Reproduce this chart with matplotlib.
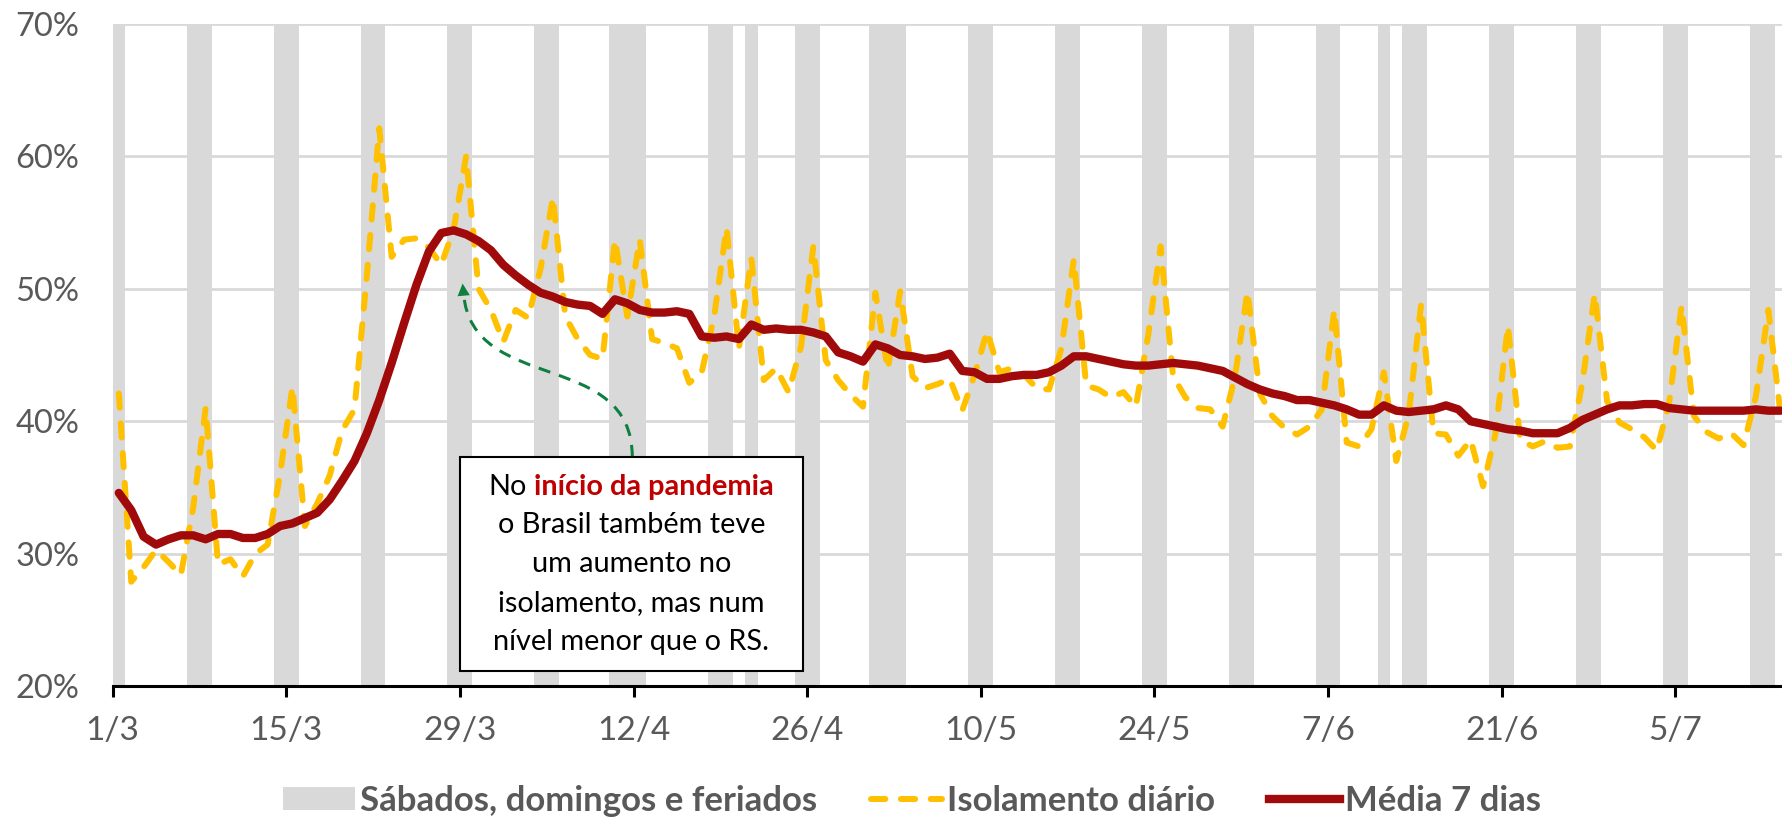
import matplotlib
matplotlib.use("Agg")
import matplotlib.pyplot as plt
import numpy as np
from matplotlib.patches import Rectangle, PathPatch, FancyArrowPatch
from matplotlib.path import Path
from matplotlib.lines import Line2D
from matplotlib.patches import Patch

plt.rcParams['font.family'] = ['Lato', 'DejaVu Sans']

# days since 1/3/2020
tick_days = [0, 14, 28, 42, 56, 70, 84, 98, 112, 126]
tick_labels = ['1/3', '15/3', '29/3', '12/4', '26/4', '10/5', '24/5', '7/6', '21/6', '5/7']

# weekends and holidays (day index)
off_days = [0, 6, 7, 13, 14, 20, 21, 27, 28, 34, 35, 40, 41, 42, 48, 49, 51,
            55, 56, 61, 62, 63, 69, 70, 76, 77, 83, 84, 90, 91, 97, 98, 102,
            104, 105, 111, 112, 118, 119, 125, 126, 132, 133]

# daily isolation (%)
isolamento = [42.1, 27.9, 29.0, 30.3, 29.4, 28.4, 33.5, 41.0, 29.2, 29.6,
              28.3, 30.0, 30.7, 36.0, 42.6, 32.1, 33.8, 35.9, 39.3, 40.9,
              51.0, 62.1, 52.4, 53.7, 53.8, 53.1, 51.8, 54.5, 60.0, 50.0,
              48.4, 46.0, 48.4, 47.8, 51.5, 56.9, 47.9, 46.2, 45.0, 44.7,
              53.7, 47.9, 53.7, 46.2, 45.9, 45.5, 42.9, 43.7, 47.9, 54.6,
              45.5, 52.3, 43.1, 44.0, 42.2, 45.6, 53.2, 44.6, 43.1, 42.0,
              41.1, 49.7, 43.9, 49.8, 43.4, 42.5, 42.8, 43.2, 40.8, 43.5,
              46.8, 43.7, 44.0, 43.5, 42.5, 42.4, 45.5, 52.2, 42.7, 42.4,
              41.8, 42.2, 41.1, 46.5, 53.2, 43.4, 41.8, 41.0, 40.9, 39.6,
              43.4, 49.8, 42.1, 40.4, 39.5, 39.0, 39.6, 40.9, 48.4, 38.4,
              38.1, 39.4, 43.7, 37.0, 40.5, 48.8, 39.1, 39.0, 37.4, 38.6,
              35.1, 39.1, 47.2, 38.6, 38.1, 38.5, 38.0, 38.1, 42.9, 49.6,
              41.5, 39.9, 39.4, 38.8, 37.8, 41.4, 48.7, 40.4, 39.2, 38.7,
              39.1, 38.2, 41.9, 48.4, 40.4]

# 7-day moving average (%)
media7 = [34.6, 33.3, 31.3, 30.7, 31.1, 31.4, 31.4, 31.1, 31.5, 31.5,
          31.2, 31.2, 31.5, 32.1, 32.3, 32.7, 33.1, 34.1, 35.5, 37.0,
          39.1, 41.6, 44.4, 47.4, 50.3, 52.8, 54.2, 54.4, 54.1, 53.6,
          52.9, 51.8, 51.0, 50.3, 49.7, 49.4, 49.0, 48.8, 48.7, 48.1,
          49.2, 48.9, 48.4, 48.2, 48.2, 48.3, 48.1, 46.4, 46.3, 46.4,
          46.2, 47.3, 46.9, 47.0, 46.9, 46.9, 46.7, 46.4, 45.2, 44.9,
          44.5, 45.8, 45.5, 45.0, 44.9, 44.7, 44.8, 45.1, 43.8, 43.7,
          43.2, 43.2, 43.4, 43.5, 43.5, 43.7, 44.2, 44.9, 44.9, 44.7,
          44.5, 44.3, 44.2, 44.2, 44.3, 44.4, 44.3, 44.2, 44.0, 43.8,
          43.3, 42.8, 42.4, 42.1, 41.9, 41.6, 41.6, 41.4, 41.2, 40.9,
          40.5, 40.5, 41.2, 40.8, 40.7, 40.8, 40.9, 41.2, 40.9, 40.0,
          39.8, 39.6, 39.4, 39.3, 39.1, 39.1, 39.1, 39.5, 40.1, 40.5,
          40.9, 41.2, 41.2, 41.3, 41.3, 41.0, 40.9, 40.8, 40.8, 40.8,
          40.8, 40.8, 40.9, 40.8, 40.8]

grey = '#d9d9d9'
gold = '#FFC000'
darkred = '#A00A0A'
green = '#0E7F3E'
txtgrey = '#595959'

fig = plt.figure(figsize=(17.82, 8.19), dpi=100)
ax = fig.add_axes([0.0632, 0.1618, 0.9368, 0.8095])

days = np.arange(len(isolamento))
x = days + 0.5

# weekend / holiday columns
ax.bar(np.array(off_days) + 0.5, 50, bottom=20, width=1.0, color=grey,
       linewidth=0, zorder=1)

ax.plot(x, isolamento, color=gold, lw=4.3, dashes=(2.4, 2.6),
        dash_capstyle='round', solid_joinstyle='round', zorder=3)
ax.plot(x, media7, color=darkred, lw=6, solid_joinstyle='round',
        solid_capstyle='round', zorder=4)

ax.set_xlim(0, 134.6)
ax.set_ylim(20, 70)
ax.set_yticks([20, 30, 40, 50, 60, 70])
ax.set_yticklabels(['20%', '30%', '40%', '50%', '60%', '70%'])
ax.set_xticks(tick_days)
ax.set_xticklabels(tick_labels)

ax.yaxis.grid(True, color=grey, lw=2, zorder=0)
ax.set_axisbelow(True)
for s in ['top', 'right', 'left']:
    ax.spines[s].set_visible(False)
ax.spines['bottom'].set_linewidth(2.2)
ax.spines['bottom'].set_zorder(5)
ax.tick_params(axis='y', length=0, pad=24, labelsize=23.5, labelcolor=txtgrey)
ax.tick_params(axis='x', length=8, width=2.2, direction='out', pad=13,
               labelsize=24, labelcolor=txtgrey)

# annotation box
box_x0, box_x1 = 28.0, 55.65
box_y0, box_y1 = 21.2, 37.3
ax.add_patch(Rectangle((box_x0, box_y0), box_x1 - box_x0, box_y1 - box_y0,
                       facecolor='white', edgecolor='black', lw=1.5, zorder=6))
cx = (box_x0 + box_x1) / 2
fs = 20.8
lines = ['o Brasil também teve', 'um aumento no', 'isolamento, mas num',
         'nível menor que o RS.']
line_y = [35.02, 32.18, 29.2, 26.27, 23.38]
for txt, yy in zip(lines, line_y[1:]):
    ax.text(cx, yy, txt, ha='center', va='center', fontsize=fs,
            color='black', zorder=7)

t1 = ax.text(cx, line_y[0], 'No', ha='left', va='center', fontsize=fs,
             color='black', zorder=7)
t2 = ax.annotate('início da pandemia', xy=(1, 0), xycoords=t1,
                 xytext=(5, 0), textcoords='offset points', ha='left',
                 va='bottom', fontsize=fs, fontweight='bold',
                 color='#C00000', zorder=7)

# curved dashed arrow
verts = [(41.9, 37.3), (41.9, 45.5), (29.0, 42.0), (28.3, 49.6)]
path = Path(verts, [Path.MOVETO, Path.CURVE4, Path.CURVE4, Path.CURVE4])
ax.add_patch(PathPatch(path, fill=False, edgecolor=green, lw=2.2,
                       linestyle=(0, (4, 3)), zorder=5))
ax.add_patch(FancyArrowPatch((28.35, 49.0), (28.2, 50.6),
                             arrowstyle='-|>', mutation_scale=22,
                             color=green, lw=0, zorder=5))

# legend
handles = [Patch(facecolor=grey, edgecolor='none'),
           Line2D([], [], color=gold, lw=4.3, dashes=(2.4, 2.6),
                  dash_capstyle='round'),
           Line2D([], [], color=darkred, lw=6)]
labels = ['Sábados, domingos e feriados', 'Isolamento diário', 'Média 7 dias']
leg = fig.legend(handles, labels, loc='center', bbox_to_anchor=(0.512, 0.022),
                 ncol=3, frameon=False, handlelength=2.05, handleheight=0.65,
                 handletextpad=0.15, columnspacing=1.55,
                 prop={'weight': 'bold', 'size': 25})
for t in leg.get_texts():
    t.set_color(txtgrey)

# centre the mixed-colour first line
fig.canvas.draw()
r = fig.canvas.get_renderer()
w1 = t1.get_window_extent(r).width
w2 = t2.get_window_extent(r).width
gap = 5 * fig.dpi / 72
px, py = ax.transData.transform((cx, line_y[0]))
nx, ny = ax.transData.inverted().transform((px - (w1 + gap + w2) / 2, py))
t1.set_position((nx, line_y[0]))

fig.savefig('out.png', dpi=100)
